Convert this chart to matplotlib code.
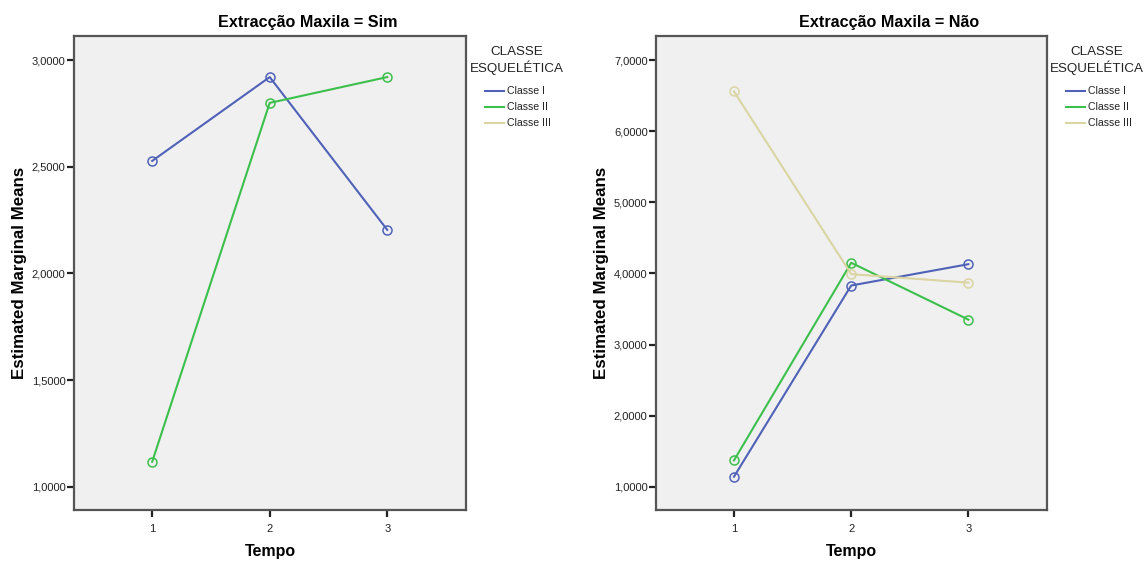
import matplotlib
matplotlib.use("Agg")
import matplotlib.pyplot as plt

plt.rcParams['font.family'] = ['Liberation Sans', 'DejaVu Sans']

tempo = [1, 2, 3]
classes = ["Classe I", "Classe II", "Classe III"]
colors = ["#4F62B8", "#3CC04C", "#DAD5A2"]

# Estimated marginal means, Extracção Maxila = Sim
sim_classe_i = [2.527, 2.920, 2.204]
sim_classe_ii = [1.117, 2.799, 2.920]

# Estimated marginal means, Extracção Maxila = Não
nao_classe_i = [1.14, 3.83, 4.13]
nao_classe_ii = [1.37, 4.15, 3.35]
nao_classe_iii = [6.56, 3.99, 3.87]

sim_ticks = [1.0, 1.5, 2.0, 2.5, 3.0]
nao_ticks = [1.0, 2.0, 3.0, 4.0, 5.0, 6.0, 7.0]

W, H = 1146, 561
fig = plt.figure(figsize=(W / 100, H / 100), dpi=100)


def box(x0, y0, x1, y1):
    return [x0 / W, 1 - y1 / H, (x1 - x0) / W, (y1 - y0) / H]


def fx(px):
    return px / W


def fy(py):
    return 1 - py / H


def legend(cx, line_x0):
    fig.text(fx(cx), fy(52), "CLASSE", ha="center", va="center",
             fontsize=9.6, color="#222222")
    fig.text(fx(cx), fy(68), "ESQUELÉTICA", ha="center", va="center",
             fontsize=9.6, color="#222222")
    for i, (name, c) in enumerate(zip(classes, colors)):
        y = fy(91 + 16 * i)
        fig.add_artist(plt.Line2D([fx(line_x0), fx(line_x0 + 19)], [y, y],
                                  color=c, lw=1.5, transform=fig.transFigure))
        fig.text(fx(line_x0 + 22), y, name, ha="left", va="center",
                 fontsize=7.6, color="#222222")


def panel(rect, title, title_x, series, ticks, ylim):
    ax = fig.add_axes(box(*rect))
    ax.set_facecolor("#F0F0F0")
    for s, c in series:
        ax.plot(tempo, s, color=c, lw=1.5, marker="o", ms=6.5,
                mfc="none", mec=c, mew=1.1)
    ax.set_xlim(0.335, 3.67)
    ax.set_ylim(*ylim)
    ax.set_xticks(tempo)
    ax.set_xticklabels([str(t) for t in tempo])
    ax.set_yticks(ticks)
    ax.set_yticklabels([f"{t:.4f}".replace(".", ",") for t in ticks])
    ax.tick_params(axis="both", labelsize=8, colors="#222222",
                   length=5, width=1.6, pad=1, direction="out")
    ax.tick_params(axis="x", pad=5)
    for sp in ax.spines.values():
        sp.set_color("#555555")
        sp.set_linewidth(1.6)
    fig.text(fx(title_x), fy(22), title, ha="center", va="center",
             fontsize=11.6, fontweight="bold")
    ax.set_xlabel("Tempo", fontsize=11.5, fontweight="bold", labelpad=7)
    ax.set_ylabel("Estimated Marginal Means", fontsize=12.2,
                  fontweight="bold")
    ax.yaxis.set_label_coords(-0.12, 0.5)
    return ax


panel((74, 36, 466, 510), "Extracção Maxila = Sim", 308,
      [(sim_classe_i, colors[0]), (sim_classe_ii, colors[1])],
      sim_ticks, (0.891, 3.1125))
panel((656, 36, 1047, 510), "Extracção Maxila = Não", 889,
      [(nao_classe_i, colors[0]), (nao_classe_ii, colors[1]),
       (nao_classe_iii, colors[2])],
      nao_ticks, (0.672, 7.34))

legend(517, 485)
legend(1097, 1066)

fig.savefig("out.png", dpi=100, facecolor="white")
